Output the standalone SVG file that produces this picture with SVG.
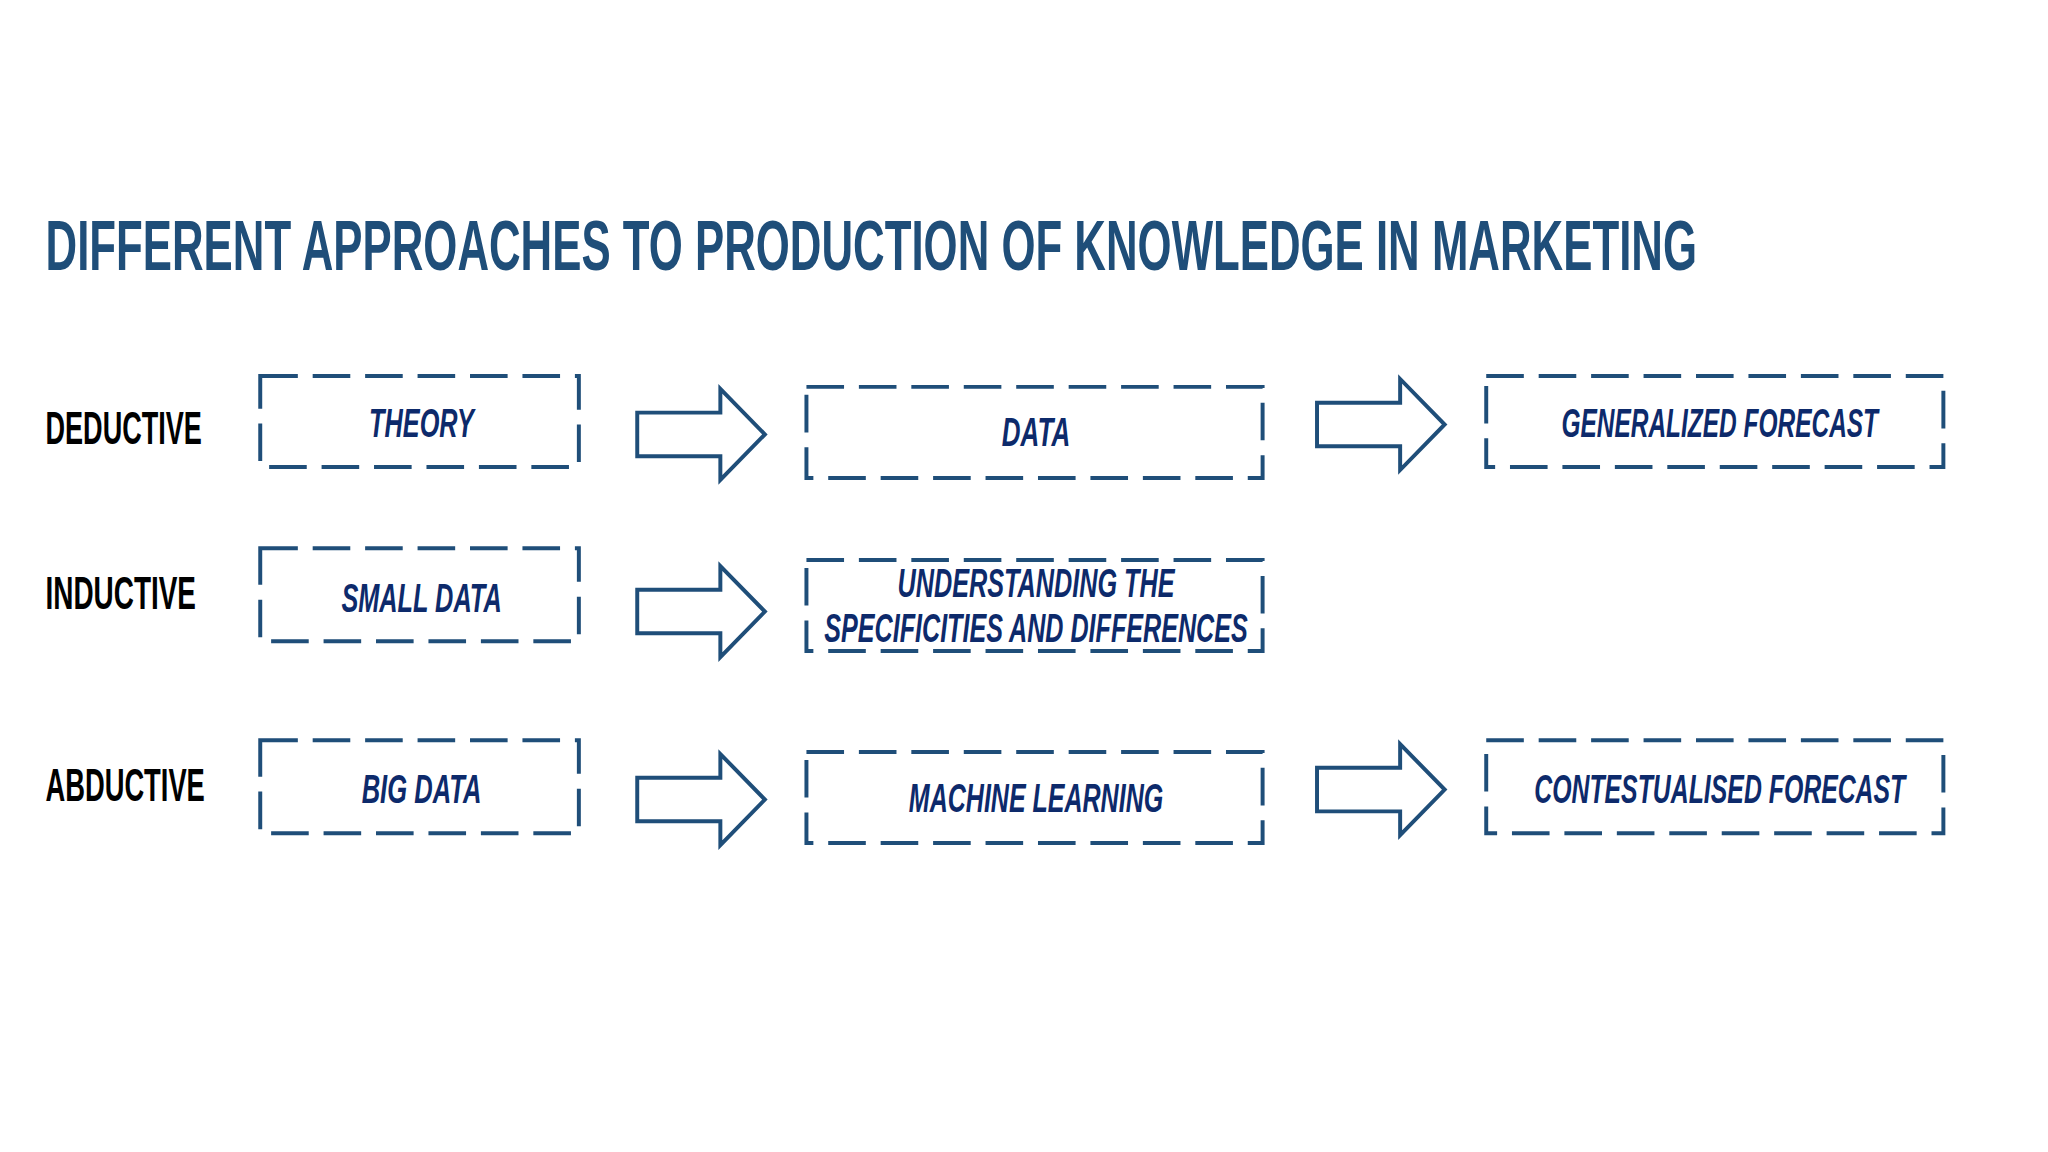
<svg xmlns="http://www.w3.org/2000/svg" width="2048" height="1152" viewBox="0 0 2048 1152">
<style>
.title{font-family:"Liberation Sans",Arial,sans-serif;font-weight:bold;font-size:72px;fill:#1F4E79}
.lab{font-family:"Liberation Sans",Arial,sans-serif;font-weight:bold;font-size:46px;fill:#000}
.bt{font-family:"Liberation Sans",Arial,sans-serif;font-weight:bold;font-style:italic;font-size:42px;fill:#0D2A6B;text-anchor:middle}
.box{fill:none;stroke:#1F4E79;stroke-width:4;stroke-dasharray:38 15}
.arr{fill:#fff;stroke:#1F4E79;stroke-width:4;stroke-linejoin:miter}
</style>
<defs>
<path id="ar" class="arr" d="M0,-22 H84 V-46 L129,0 L84,46 V22 H0 Z"/>
</defs>
<rect width="2048" height="1152" fill="#fff"/>
<g transform="scale(0.9895)">
<text class="title" x="46" y="273" textLength="1669" lengthAdjust="spacingAndGlyphs">DIFFERENT APPROACHES TO PRODUCTION OF KNOWLEDGE IN MARKETING</text>
<g id="labels">
<text class="lab" x="46" y="449" textLength="158" lengthAdjust="spacingAndGlyphs">DEDUCTIVE</text>
<text class="lab" x="46" y="615" textLength="152" lengthAdjust="spacingAndGlyphs">INDUCTIVE</text>
<text class="lab" x="46" y="810" textLength="161" lengthAdjust="spacingAndGlyphs">ABDUCTIVE</text>
</g>
<g id="n-theory"><rect class="box" x="263" y="380" width="322" height="92"/><text class="bt" x="426" y="442" textLength="106" lengthAdjust="spacingAndGlyphs">THEORY</text></g>
<g id="n-data"><rect class="box" x="815" y="391" width="461" height="92"/><text class="bt" x="1047" y="451" textLength="69" lengthAdjust="spacingAndGlyphs">DATA</text></g>
<g id="n-gf"><rect class="box" x="1502" y="380" width="462" height="92"/><text class="bt" x="1738" y="442" textLength="320" lengthAdjust="spacingAndGlyphs">GENERALIZED FORECAST</text></g>
<g id="n-small"><rect class="box" x="263" y="554" width="322" height="94"/><text class="bt" x="426" y="618" textLength="162" lengthAdjust="spacingAndGlyphs">SMALL DATA</text></g>
<g id="n-und"><rect class="box" x="815" y="566" width="461" height="92"/><text class="bt" x="1047" y="603" textLength="280" lengthAdjust="spacingAndGlyphs">UNDERSTANDING THE</text><text class="bt" x="1047" y="649" textLength="428" lengthAdjust="spacingAndGlyphs">SPECIFICITIES AND DIFFERENCES</text></g>
<g id="n-big"><rect class="box" x="263" y="748" width="322" height="94"/><text class="bt" x="426" y="812" textLength="121" lengthAdjust="spacingAndGlyphs">BIG DATA</text></g>
<g id="n-ml"><rect class="box" x="815" y="760" width="461" height="92"/><text class="bt" x="1047" y="821" textLength="257" lengthAdjust="spacingAndGlyphs">MACHINE LEARNING</text></g>
<g id="n-cf"><rect class="box" x="1502" y="748" width="462" height="94"/><text class="bt" x="1738" y="812" textLength="375" lengthAdjust="spacingAndGlyphs">CONTESTUALISED FORECAST</text></g>
<g id="connectors">
<use href="#ar" x="644" y="439"/>
<use href="#ar" x="1331" y="429"/>
<use href="#ar" x="644" y="618"/>
<use href="#ar" x="644" y="808"/>
<use href="#ar" x="1331" y="798"/>
</g>
</g>
</svg>
